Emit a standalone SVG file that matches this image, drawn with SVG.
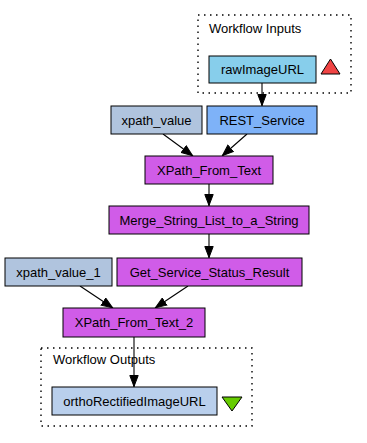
<svg xmlns="http://www.w3.org/2000/svg" width="367" height="443" viewBox="0 0 367 443">
  <style>
    text { font-family: "Liberation Sans", Arial, sans-serif; font-size: 13px; fill: #000; }
    .node rect { stroke: #000; stroke-width: 1; }
    .lbl { text-anchor: middle; }
    .cluster { fill: none; stroke: #000; stroke-width: 1.4; stroke-dasharray: 1.5 4.5; }
    .edge { fill: none; stroke: #000; stroke-width: 1.1; }
    .input rect { fill: #87ceeb; }
    .rest rect { fill: #7eb2f8; }
    .const rect { fill: #b0c4de; }
    .proc rect { fill: #d05ce8; }
    .output rect { fill: #b9cfec; }
  </style>
  <defs>
    <marker id="arrow" viewBox="0 0 12 10" refX="12" refY="5" markerWidth="12" markerHeight="10" markerUnits="userSpaceOnUse" orient="auto">
      <path d="M0.5,0.8 L11.5,5 L0.5,9.2 Z" fill="#000" stroke="#000" stroke-width="1"/>
    </marker>
  </defs>
  <rect width="367" height="443" fill="#fff"/>

  <!-- workflow input / output clusters -->
  <g id="cluster_inputs">
    <rect class="cluster" x="198" y="15" width="153" height="78"/>
    <text x="209" y="33">Workflow Inputs</text>
  </g>
  <g id="cluster_outputs">
    <rect class="cluster" x="41" y="348" width="211" height="78"/>
    <text x="53" y="364">Workflow Outputs</text>
  </g>

  <!-- connectors -->
  <g id="connectors">
    <path class="edge" d="M262,83 L262,106" marker-end="url(#arrow)"/>
    <path class="edge" d="M247,134 L222,156" marker-end="url(#arrow)"/>
    <path class="edge" d="M163,134 L193,156" marker-end="url(#arrow)"/>
    <path class="edge" d="M209,184 L209,206" marker-end="url(#arrow)"/>
    <path class="edge" d="M209,234 L209,258" marker-end="url(#arrow)"/>
    <path class="edge" d="M80,286 L113,308" marker-end="url(#arrow)"/>
    <path class="edge" d="M188,286 L155,308" marker-end="url(#arrow)"/>
    <path class="edge" d="M134,337 L134,387" marker-end="url(#arrow)"/>
  </g>

  <!-- nodes -->
  <g id="rawImageURL" class="node input">
    <rect x="209" y="56" width="107" height="27"/>
    <text class="lbl" x="262.5" y="74">rawImageURL</text>
  </g>
  <g id="input_marker">
    <polygon points="330.5,59 340,74 321,74" fill="#f04444" stroke="#000" stroke-width="1"/>
  </g>
  <g id="REST_Service" class="node rest">
    <rect x="207" y="106" width="110" height="28"/>
    <text class="lbl" x="262" y="125">REST_Service</text>
  </g>
  <g id="xpath_value" class="node const">
    <rect x="111" y="106" width="91" height="28"/>
    <text class="lbl" x="156.5" y="125">xpath_value</text>
  </g>
  <g id="XPath_From_Text" class="node proc">
    <rect x="145" y="156" width="128" height="28"/>
    <text class="lbl" x="209" y="175">XPath_From_Text</text>
  </g>
  <g id="Merge_String_List_to_a_String" class="node proc">
    <rect x="109" y="206" width="200" height="28"/>
    <text class="lbl" x="209" y="225">Merge_String_List_to_a_String</text>
  </g>
  <g id="xpath_value_1" class="node const">
    <rect x="5" y="258" width="107" height="28"/>
    <text class="lbl" x="58.5" y="277">xpath_value_1</text>
  </g>
  <g id="Get_Service_Status_Result" class="node proc">
    <rect x="117" y="258" width="185" height="28"/>
    <text class="lbl" x="209.5" y="277">Get_Service_Status_Result</text>
  </g>
  <g id="XPath_From_Text_2" class="node proc">
    <rect x="63" y="308" width="142" height="29"/>
    <text class="lbl" x="134" y="327">XPath_From_Text_2</text>
  </g>
  <g id="orthoRectifiedImageURL" class="node output">
    <rect x="52" y="387" width="165" height="28"/>
    <text class="lbl" x="134.5" y="406">orthoRectifiedImageURL</text>
  </g>
  <g id="output_marker">
    <polygon points="222,397 242,397 232,411" fill="#66cc00" stroke="#000" stroke-width="1"/>
  </g>
</svg>
